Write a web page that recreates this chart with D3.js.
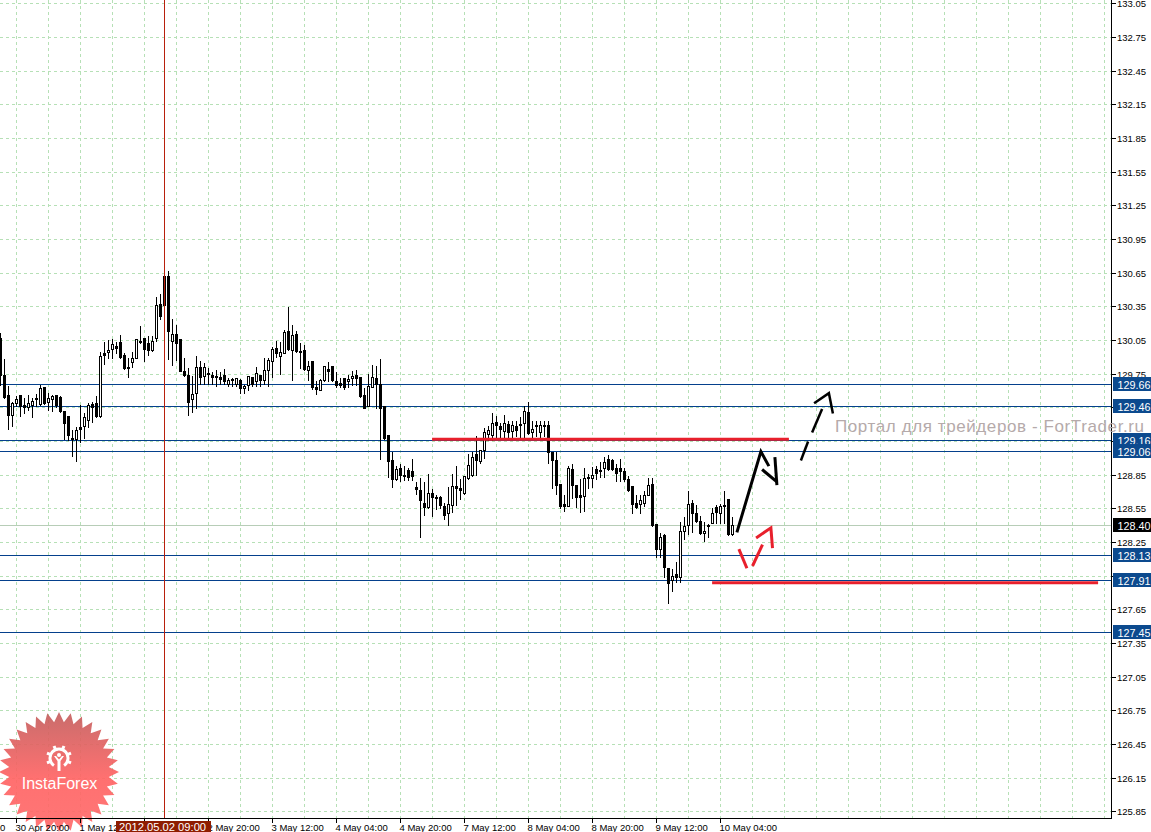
<!DOCTYPE html>
<meta charset="utf-8">
<style>

html, body {
    margin: 0;
    background: #fff;
    overflow: hidden;
}

text {
    font-family: "Liberation Sans", sans-serif;
}

.grid line {
    stroke: #b6e0b6;
    stroke-dasharray: 3 3;
    shape-rendering: crispEdges;
}

.level {
    stroke: #04408c;
    shape-rendering: crispEdges;
}

.wick,
.body {
    stroke: #000;
    shape-rendering: crispEdges;
}

.axis-line {
    stroke: #000;
    shape-rendering: crispEdges;
}

.price-label,
.time-label {
    font-size: 9.5px;
    fill: #000;
}

.badge-label {
    font-size: 10.8px;
    fill: #fff;
}

</style>

<svg width="1151" height="832"></svg>
<script src="https://cdn.jsdelivr.net/npm/d3@7"></script>

<script>

// hourly candles
var opens = [
    130.07,129.74,129.56,129.38,129.49,129.56,129.47,129.45,129.47,129.53,
    129.48,129.63,129.50,129.52,129.56,129.54,129.42,129.37,129.18,129.17,
    129.27,129.28,129.34,129.48,129.49,129.37,129.93,129.94,129.97,130.00,
    130.03,129.92,129.81,129.85,129.89,130.04,130.07,130.02,129.96,130.07,
    130.37,130.62,130.62,130.04,130.10,130.06,129.77,129.74,129.52,129.58,
    129.81,129.73,129.76,129.74,129.73,129.72,129.74,129.66,129.70,129.66,
    129.69,129.62,129.65,129.72,129.68,129.74,129.69,129.78,129.86,129.98,
    129.91,129.93,130.13,129.96,130.10,129.95,129.96,129.78,129.86,129.63,
    129.60,129.69,129.79,129.82,129.68,129.67,129.71,129.68,129.71,129.74,
    129.72,129.56,129.46,129.63,129.71,129.66,129.46,129.20,128.98,128.81,
    128.91,128.85,128.89,128.88,128.74,128.71,128.60,128.56,128.69,128.65,
    128.65,128.57,128.51,128.58,128.75,128.73,128.69,128.82,128.85,129.03,
    128.97,129.07,129.21,129.20,129.32,129.28,129.24,129.30,129.24,129.28,
    129.30,129.31,129.41,129.23,129.29,129.23,129.29,129.29,129.05,128.98,
    128.77,128.59,128.57,128.90,128.76,128.67,128.66,128.83,128.82,128.90,
    128.89,128.91,128.99,128.98,128.91,128.91,128.88,128.81,128.75,128.60,
    128.59,128.60,128.67,128.77,128.41,128.19,128.31,128.02,127.91,127.96,
    127.94,128.35,128.40,128.60,128.51,128.44,128.33,128.40,128.42,128.56,
    128.51,128.58,128.63,128.32
];
var highs = [
    130.12,129.89,129.65,129.51,129.56,129.57,129.54,129.57,129.54,129.58,
    129.66,129.64,129.59,129.57,129.57,129.56,129.42,129.38,129.26,129.28,
    129.48,129.41,129.50,129.51,129.56,129.95,130.04,130.06,130.07,130.04,
    130.10,129.94,129.90,129.95,130.06,130.18,130.08,130.09,130.09,130.44,
    130.47,130.62,130.67,130.25,130.19,130.06,129.90,129.81,129.74,129.92,
    129.87,129.85,129.81,129.77,129.79,129.77,129.80,129.72,129.72,129.72,
    129.71,129.66,129.74,129.73,129.82,129.75,129.90,129.90,130.00,130.05,
    130.04,130.15,130.35,130.19,130.14,130.03,130.01,129.87,129.86,129.69,
    129.71,129.82,129.86,129.82,129.77,129.72,129.72,129.75,129.78,129.79,
    129.72,129.63,129.76,129.84,129.83,129.89,129.46,129.20,129.06,128.94,
    128.95,128.94,128.92,129.00,128.79,128.83,128.79,128.86,128.73,128.68,
    128.67,128.61,128.75,128.86,128.94,128.82,128.85,129.04,129.06,129.20,
    129.08,129.27,129.29,129.41,129.38,129.32,129.39,129.34,129.34,129.34,
    129.37,129.47,129.51,129.34,129.34,129.34,129.34,129.34,129.05,129.06,
    128.77,128.68,128.94,128.95,128.76,128.82,128.92,128.86,128.93,128.94,
    128.97,129.02,129.03,129.00,128.95,129.00,128.92,128.85,128.75,128.68,
    128.68,128.71,128.83,128.83,128.42,128.34,128.33,128.02,128.02,128.08,
    128.44,128.48,128.71,128.63,128.59,128.49,128.44,128.42,128.56,128.59,
    128.60,128.71,128.63,128.48
];
var lows = [
    129.65,129.53,129.26,129.28,129.46,129.37,129.40,129.43,129.36,129.46,
    129.47,129.48,129.43,129.42,129.45,129.41,129.17,129.16,129.02,128.97,
    129.14,129.18,129.27,129.32,129.36,129.36,129.84,129.89,129.89,129.93,
    129.89,129.79,129.72,129.81,129.89,130.02,129.86,129.92,129.95,130.04,
    130.24,130.26,129.88,129.83,129.87,129.77,129.73,129.38,129.41,129.44,
    129.66,129.66,129.66,129.66,129.64,129.66,129.66,129.64,129.64,129.64,
    129.58,129.58,129.60,129.64,129.64,129.64,129.66,129.64,129.72,129.90,
    129.75,129.93,129.96,129.69,129.94,129.80,129.78,129.69,129.61,129.57,
    129.60,129.68,129.68,129.68,129.63,129.63,129.61,129.63,129.65,129.65,
    129.54,129.44,129.46,129.63,129.44,128.99,129.17,128.83,128.74,128.80,
    128.79,128.80,128.80,128.80,128.68,128.29,128.49,128.55,128.48,128.54,
    128.55,128.45,128.40,128.52,128.58,128.63,128.68,128.81,128.84,128.85,
    128.95,129.00,129.16,129.16,129.17,129.17,129.18,129.17,129.17,129.19,
    129.17,129.18,129.21,129.18,129.19,129.18,129.19,128.95,128.73,128.68,
    128.55,128.53,128.57,128.64,128.56,128.52,128.53,128.73,128.74,128.81,
    128.83,128.83,128.89,128.89,128.79,128.79,128.79,128.70,128.51,128.55,
    128.51,128.57,128.67,128.39,128.12,128.12,127.94,127.71,127.81,127.89,
    127.89,128.28,128.32,128.34,128.43,128.32,128.26,128.29,128.42,128.42,
    128.42,128.42,128.31,128.31
];
var closes = [
    129.74,129.54,129.38,129.49,129.52,129.46,129.45,129.49,129.51,129.52,
    129.62,129.49,129.53,129.55,129.47,129.42,129.31,129.20,129.17,129.25,
    129.26,129.36,129.47,129.45,129.37,129.91,129.92,129.96,130.01,129.98,
    129.90,129.80,129.80,129.89,130.06,130.03,129.97,129.96,130.04,130.36,
    130.26,130.36,130.13,130.10,130.02,129.77,129.74,129.50,129.57,129.81,
    129.72,129.81,129.75,129.72,129.72,129.70,129.68,129.69,129.69,129.71,
    129.62,129.64,129.73,129.66,129.76,129.69,129.78,129.87,129.97,129.93,
    129.94,130.12,129.97,130.09,129.95,129.94,129.79,129.82,129.63,129.61,
    129.69,129.82,129.77,129.69,129.65,129.65,129.63,129.70,129.73,129.71,
    129.55,129.44,129.64,129.72,129.66,129.44,129.18,128.97,128.81,128.90,
    128.85,128.84,128.83,128.84,128.72,128.62,128.56,128.69,128.65,128.64,
    128.58,128.49,128.59,128.75,128.73,128.71,128.84,128.94,129.01,128.98,
    129.07,129.23,129.25,129.31,129.29,129.26,129.31,129.23,129.29,129.25,
    129.29,129.42,129.22,129.26,129.28,129.29,129.28,129.05,128.98,128.76,
    128.57,128.57,128.91,128.76,128.65,128.65,128.82,128.82,128.85,128.86,
    128.88,128.96,128.90,128.90,128.86,128.88,128.81,128.71,128.59,128.56,
    128.62,128.67,128.76,128.40,128.19,128.29,128.03,127.88,127.95,127.94,
    128.35,128.39,128.59,128.51,128.44,128.33,128.35,128.39,128.51,128.52,
    128.57,128.57,128.32,128.40
];

// time axis, one tick every 16 candles
var timeTickIndex = [-12, 4, 20, 36, 52, 68, 84, 100, 116, 132, 148, 164, 180];
var timeTickLabels = ["30 Apr 04:00", "30 Apr 20:00", "1 May 12:00", "", "2 May 20:00",
    "3 May 12:00", "4 May 04:00", "4 May 20:00", "7 May 12:00", "8 May 04:00",
    "8 May 20:00", "9 May 12:00", "10 May 04:00"];

var priceTicks = [133.05, 132.75, 132.45, 132.15, 131.85, 131.55, 131.25, 130.95, 130.65, 130.35,
    130.05, 129.75, 129.45, 129.15, 128.85, 128.55, 128.25, 127.95, 127.65, 127.35,
    127.05, 126.75, 126.45, 126.15, 125.85];
// these two sit fully under a price tag
var hiddenPriceLabels = [129.45, 129.15];

// horizontal levels with their price tags
var levels = [129.66, 129.46, 129.16, 129.06, 128.13, 127.91, 127.45];
var lastPrice = 128.40;

// crosshair
var crossIndex = 41;
var crossLabel = "2012.05.02 09:00";

// hand drawn stuff, [candle index, price]
var redLevelA = [[107.9, 129.17], [197.1, 129.17]];
var redLevelB = [[177.9, 127.89], [274.4, 127.89]];
var blackStrokes = [
    [[184.1, 128.34], [190.1, 129.06], [192.1, 128.93]],
    [[190.4, 128.90], [194.1, 128.79]],
    [[193.6, 129.01], [194.1, 128.76]]
];
var redStrokes = [
    [[184.6, 128.19], [186.6, 128.02]],
    [[188.0, 128.04], [190.5, 128.23]],
    [[188.9, 128.29], [192.6, 128.38], [193.0, 128.20]]
];
var dashStrokes = [
    [[200.1, 128.98], [201.9, 129.15]],
    [[202.9, 129.23], [205.4, 129.44]],
    [[203.4, 129.49], [207.1, 129.58], [208.1, 129.40]]
];

var watermark = "Портал для трейдеров - ForTrader.ru";
var logoText = "InstaForex";

var svg = d3.select("svg");

var plotRight = 1111.5,
    plotBottom = 818.5;

var x = d3.scaleLinear().domain([0, 183]).range([0.5, 732.5]);
var y = d3.scaleLinear().domain([133.05, 125.85]).range([3.9, 811.7]);

function py(p) { return Math.floor(y(p)) + 0.5; }

// Grid
var gridIndex = d3.range(4, 277, 8);

var grid = svg.append("g").attr("class", "grid");

grid.selectAll(".v")
    .data(gridIndex)
    .enter().append("line")
    .attr("x1", x).attr("x2", x)
    .attr("y1", 0).attr("y2", plotBottom);

grid.selectAll(".h")
    .data(priceTicks)
    .enter().append("line")
    .attr("x1", 0).attr("x2", plotRight)
    .attr("y1", py).attr("y2", py);

// Levels
svg.append("line")
    .attr("x1", 0).attr("x2", plotRight)
    .attr("y1", py(lastPrice)).attr("y2", py(lastPrice))
    .attr("stroke", "#b7cdb7")
    .attr("shape-rendering", "crispEdges");

svg.selectAll(".level")
    .data(levels)
    .enter().append("line")
    .attr("class", "level")
    .attr("x1", 0).attr("x2", plotRight)
    .attr("y1", py).attr("y2", py);

// Candles
var candles = svg.append("g")
    .selectAll("g")
    .data(d3.range(opens.length))
    .enter().append("g");

candles.append("line")
    .attr("class", "wick")
    .attr("x1", x).attr("x2", x)
    .attr("y1", function(i) { return py(highs[i]); })
    .attr("y2", function(i) { return py(lows[i]); });

candles.append("rect")
    .attr("class", "body")
    .attr("x", function(i) { return x(i) - 1; })
    .attr("width", 2)
    .attr("y", function(i) { return py(Math.max(opens[i], closes[i])); })
    .attr("height", function(i) { return py(Math.min(opens[i], closes[i])) - py(Math.max(opens[i], closes[i])); })
    .attr("fill", function(i) { return closes[i] >= opens[i] ? "#fff" : "#000"; });

// Crosshair
svg.append("line")
    .attr("x1", x(crossIndex)).attr("x2", x(crossIndex))
    .attr("y1", 0).attr("y2", plotBottom)
    .attr("stroke", "#b8200c")
    .attr("shape-rendering", "crispEdges");

// Trend lines and arrows
var line = d3.line()
    .x(function(d) { return x(d[0]); })
    .y(function(d) { return y(d[1]); });

function strokes(data, color, width) {
    svg.append("g").selectAll("path")
        .data(data)
        .enter().append("path")
        .attr("d", line)
        .attr("fill", "none")
        .attr("stroke", color)
        .attr("stroke-width", width);
}

strokes([redLevelA, redLevelB], "#e8202c", 3);
strokes(blackStrokes, "#000", 3);
strokes(redStrokes, "#e8202c", 3);
strokes(dashStrokes, "#000", 2.5);

// InstaForex logo
var starCenter = [59, 772];
var star = d3.lineRadial()
    .angle(function(d, i) { return i * Math.PI / 32; })
    .radius(function(d, i) { return i % 2 ? 50 : 60; })
    .curve(d3.curveLinearClosed);

var defs = svg.append("defs");
var grad = defs.append("linearGradient")
    .attr("id", "starFill")
    .attr("x1", 0).attr("x2", 0).attr("y1", 0).attr("y2", 1);
grad.append("stop").attr("offset", "0%").attr("stop-color", "#c4605f");
grad.append("stop").attr("offset", "55%").attr("stop-color", "#ff6464");
grad.append("stop").attr("offset", "100%").attr("stop-color", "#ff6a6a");

var logo = svg.append("g")
    .attr("transform", "translate(" + starCenter[0] + "," + starCenter[1] + ")");

logo.append("path")
    .attr("d", star(d3.range(64)))
    .attr("fill", "url(#starFill)")
    .attr("opacity", 0.92);

var gear = logo.append("g")
    .attr("transform", "translate(0,-14)")
    .attr("fill", "#fff");

gear.append("path")
    .attr("d", d3.arc()
        .innerRadius(7.5)
        .outerRadius(10.5)
        .startAngle(Math.PI + 0.6)
        .endAngle(3 * Math.PI - 0.6)());

gear.selectAll("rect")
    .data(d3.range(8))
    .enter().append("rect")
    .attr("x", -1.5)
    .attr("y", -13)
    .attr("width", 3)
    .attr("height", 4)
    .attr("transform", function(d) { return "rotate(" + (d * 45 + 22.5) + ")"; })
    .filter(function(d) { return d == 3 || d == 4; })
    .remove();

gear.append("circle").attr("cy", -3).attr("r", 2);
gear.append("path").attr("d", "M-5,-2 L-1.5,3 L-1.5,13 L1.5,13 L1.5,3 L5,-2 L3,-2 L0,1.5 L-3,-2 Z");

logo.append("text")
    .attr("x", 0.5)
    .attr("y", 17)
    .attr("text-anchor", "middle")
    .attr("font-size", 16)
    .attr("fill", "#fff")
    .text(logoText);

// Axes
svg.append("line")
    .attr("class", "axis-line")
    .attr("x1", plotRight).attr("x2", plotRight)
    .attr("y1", 0).attr("y2", plotBottom);

svg.append("line")
    .attr("class", "axis-line")
    .attr("x1", 0).attr("x2", plotRight)
    .attr("y1", plotBottom).attr("y2", plotBottom);

svg.selectAll(".price-tick")
    .data(priceTicks)
    .enter().append("line")
    .attr("class", "axis-line")
    .attr("x1", plotRight).attr("x2", plotRight + 4)
    .attr("y1", py).attr("y2", py);

svg.selectAll(".price-label")
    .data(priceTicks.filter(function(d) { return hiddenPriceLabels.indexOf(d) < 0; }))
    .enter().append("text")
    .attr("class", "price-label")
    .attr("x", 1117)
    .attr("y", function(d) { return py(d) + 3.5; })
    .text(function(d) { return d.toFixed(2); });

svg.selectAll(".time-tick")
    .data(timeTickIndex)
    .enter().append("line")
    .attr("class", "axis-line")
    .attr("x1", x).attr("x2", x)
    .attr("y1", plotBottom).attr("y2", plotBottom + 4);

svg.selectAll(".time-label")
    .data(timeTickIndex)
    .enter().append("text")
    .attr("class", "time-label")
    .attr("x", function(d) { return x(d) - 1; })
    .attr("y", 831)
    .text(function(d, i) { return timeTickLabels[i]; });

// Watermark runs over the price axis
svg.append("text")
    .attr("x", 835)
    .attr("y", 432)
    .attr("textLength", 309)
    .attr("font-size", 17)
    .attr("font-family", "'DejaVu Sans', sans-serif")
    .attr("fill", "#b5aaaa")
    .text(watermark);

// Crosshair tag
svg.append("rect")
    .attr("x", 116).attr("y", 821)
    .attr("width", 95).attr("height", 11)
    .attr("fill", "#8e1c00");

svg.append("text")
    .attr("x", 119)
    .attr("y", 831)
    .attr("font-size", 11.2)
    .attr("fill", "#fff")
    .text(crossLabel);

// Price tags
function priceTag(p, color) {
    svg.append("rect")
        .attr("x", 1113).attr("y", py(p) - 7.5)
        .attr("width", 38).attr("height", 14)
        .attr("fill", color);
    svg.append("text")
        .attr("class", "badge-label")
        .attr("x", 1117.5)
        .attr("y", py(p) + 4)
        .text(p.toFixed(2));
}

levels.forEach(function(p) { priceTag(p, "#0c4a8e"); });
priceTag(lastPrice, "#000");

</script>
